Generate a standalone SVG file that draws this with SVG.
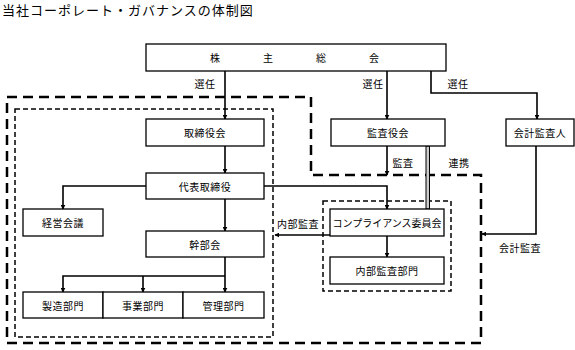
<svg xmlns="http://www.w3.org/2000/svg" width="575" height="350" viewBox="0 0 575 350">
<defs>
<marker id="ah" viewBox="0 0 8 8" refX="7" refY="4" markerWidth="5" markerHeight="5" markerUnits="userSpaceOnUse" orient="auto">
<path d="M0,0 L8,4 L0,8 Z" fill="#000"/>
</marker>
<style>
text{font-family:"Noto Sans CJK JP","Noto Sans",sans-serif;fill:#000}
.t{font-size:10px;letter-spacing:0.5px;text-anchor:middle;dominant-baseline:central}
.l{font-size:10px;letter-spacing:0.5px;text-anchor:middle;dominant-baseline:central}
.box{fill:#fff;stroke:#000;stroke-width:1.3}
.c{fill:none;stroke:#000;stroke-width:1.6}
.a{marker-end:url(#ah)}
.outer{fill:none;stroke:#000;stroke-width:2.5;stroke-dasharray:10 6}
.inner{fill:none;stroke:#000;stroke-width:1.5;stroke-dasharray:5 3}
</style>
</defs>
<rect width="575" height="350" fill="#fff"/>
<text x="2" y="15" style="font-size:13px;letter-spacing:1px">当社コーポレート・ガバナンスの体制図</text>

<g id="frames">
<path class="outer" d="M7,97 H311 V175 H481 V343 H7 Z"/>
<rect class="inner" x="15" y="109" width="258" height="228"/>
<rect class="inner" x="323" y="201" width="128" height="90"/>
</g>

<g id="connectors">
<path class="c a" d="M225,71 V119"/>
<path class="c a" d="M387,71 V119"/>
<path class="c a" d="M431,71 V93 H537 V119"/>
<path class="c a" d="M225,146 V173"/>
<path class="c a" d="M146,186 H63 V209"/>
<path class="c a" d="M225,199 V231"/>
<path class="c a" d="M264,186 H387 V209"/>
<path class="c a" d="M225,257 V292"/>
<path class="c a" d="M225,276 H63 V292"/>
<path class="c a" d="M143,276 V292"/>
<path class="c a" d="M387,146 V175"/>
<rect x="426" y="146" width="3.5" height="63" fill="#ccc" stroke="#000" stroke-width="1"/>
<path class="c a" d="M387,236 V257"/>
<path class="c a" d="M330,235 H275"/>
<path class="c a" d="M536,146 V234 H482"/>
<text class="l" x="205" y="83">選任</text>
<text class="l" x="373" y="83">選任</text>
<text class="l" x="458" y="83">選任</text>
<text class="l" x="403" y="162">監査</text>
<text class="l" x="459" y="162">連携</text>
<text class="l" x="298" y="223">内部監査</text>
<text class="l" x="520" y="247">会計監査</text>
</g>

<g id="shareholders">
<rect class="box" x="146" y="44" width="300" height="27"/>
<text class="t" x="215 268 321 374" y="57.5" style="letter-spacing:0">株主総会</text>
</g>
<g id="board">
<rect class="box" x="146" y="119" width="118" height="27"/>
<text class="t" x="205" y="132.5">取締役会</text>
</g>
<g id="auditors">
<rect class="box" x="331" y="119" width="114" height="27"/>
<text class="t" x="388" y="132.5">監査役会</text>
</g>
<g id="accounting-auditor">
<rect class="box" x="506" y="119" width="68" height="27"/>
<text class="t" x="540" y="132.5">会計監査人</text>
</g>
<g id="representative">
<rect class="box" x="146" y="173" width="118" height="26"/>
<text class="t" x="205" y="186">代表取締役</text>
</g>
<g id="management-meeting">
<rect class="box" x="23" y="209" width="80" height="27"/>
<text class="t" x="63" y="222.5">経営会議</text>
</g>
<g id="executive-meeting">
<rect class="box" x="146" y="231" width="118" height="26"/>
<text class="t" x="205" y="244">幹部会</text>
</g>
<g id="manufacturing">
<rect class="box" x="23" y="292" width="80" height="26"/>
<text class="t" x="63" y="305">製造部門</text>
</g>
<g id="business">
<rect class="box" x="103" y="292" width="80" height="26"/>
<text class="t" x="143" y="305">事業部門</text>
</g>
<g id="administration">
<rect class="box" x="183" y="292" width="81" height="26"/>
<text class="t" x="223.5" y="305">管理部門</text>
</g>
<g id="compliance">
<rect class="box" x="330" y="209" width="114" height="27"/>
<text class="t" x="387" y="222.5" style="letter-spacing:0">コンプライアンス委員会</text>
</g>
<g id="internal-audit">
<rect class="box" x="330" y="257" width="114" height="27"/>
<text class="t" x="387" y="270.5">内部監査部門</text>
</g>
</svg>
